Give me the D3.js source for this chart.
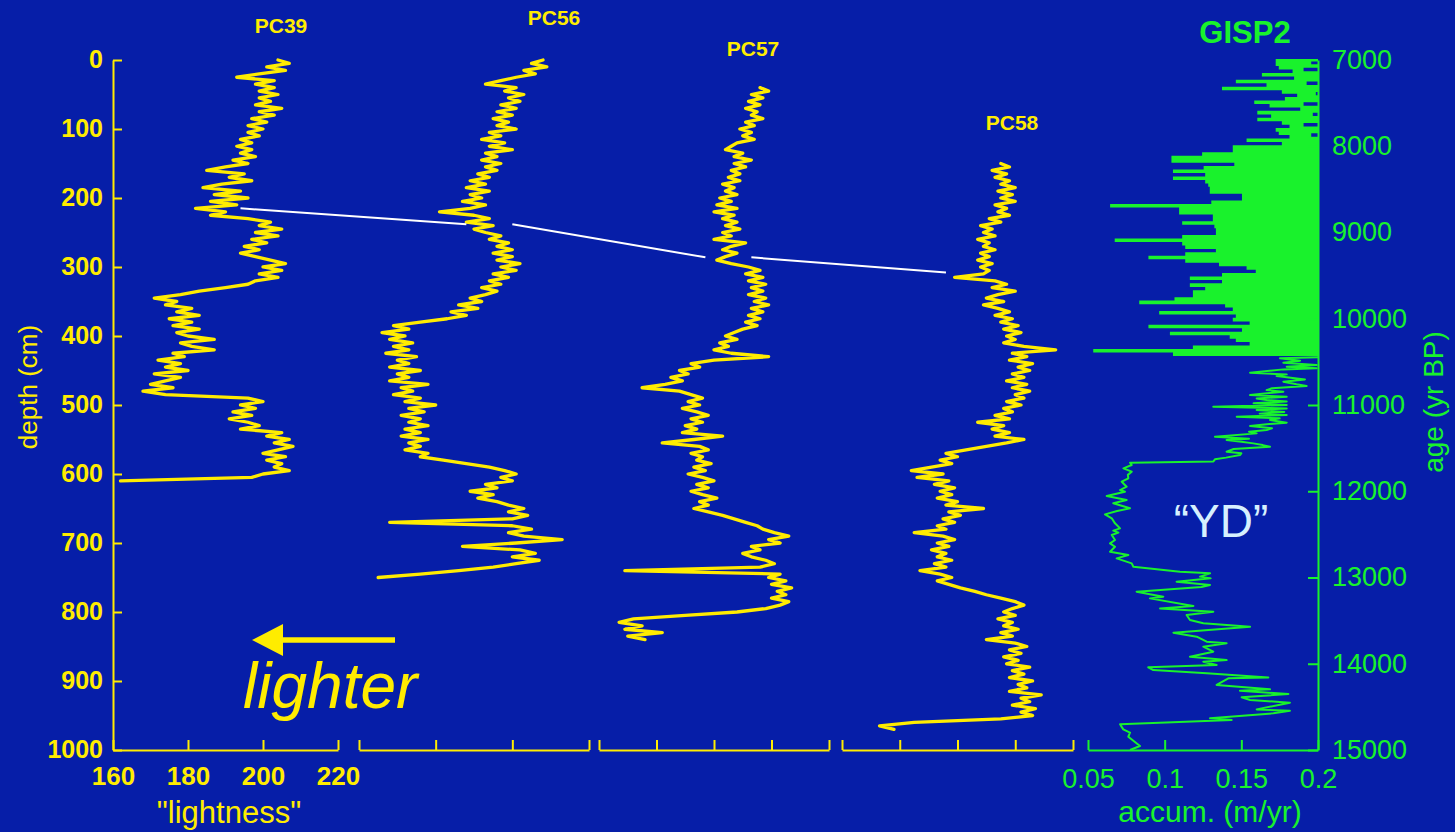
<!DOCTYPE html>
<html><head><meta charset="utf-8">
<script src="https://cdn.jsdelivr.net/npm/d3@7"></script>
<style>html,body{margin:0;padding:0;background:#061ea8;}svg{display:block;}</style>
</head><body><svg id="c" width="1455" height="832"></svg>
<script>
// ---------- DATA ----------
const coreNames = ["PC39", "PC56", "PC57", "PC58"];
const coreDepthStart = [0, 0, 40, 150];   // cm, first sample depth of each core
const depthStep = 5;                       // cm between samples
const pc39 = [204,207,201,206,199,193,203,198,203,199,
 204,199,202,198,205,199,203,197,201,196,
 200,196,199,194,197,193,197,194,198,192,
 196,190,185,195,191,197,189,184,194,187,
 196,186,193,182,190,186,196,202,199,205,
 198,204,197,201,195,199,194,198,202,206,
 200,205,199,204,198,196,190,183,178,171,
 177,174,181,177,183,175,181,176,183,177,
 180,187,178,181,187,176,179,172,178,174,
 180,171,178,174,170,176,168,174,196,200,
 194,198,192,197,191,196,199,194,205,201,
 207,203,208,204,200,206,201,205,203,207,
 200,197,162];
const pc56 = [208,205,209,203,206,201,197,193,201,198,
 203,199,202,197,201,196,200,195,199,196,
 201,194,197,192,198,194,200,193,196,192,
 197,193,196,191,194,189,193,188,194,189,
 192,187,193,189,181,190,194,188,195,190,
 193,197,194,199,196,200,195,200,196,202,
 197,201,195,199,194,197,192,196,193,189,
 192,186,191,184,188,183,176,169,173,166,
 172,168,174,169,173,167,175,170,173,168,
 176,170,173,168,178,171,174,169,176,172,
 180,173,177,171,176,173,178,172,176,171,
 178,173,176,172,178,176,182,188,194,198,
 201,197,200,193,196,189,195,191,196,199,
 203,199,204,200,168,200,205,199,203,213,
 201,187,202,206,200,207,201,195,186,176,
 165];
const pc57 = [196,199,193,197,192,196,191,195,193,197,
 191,194,189,193,190,194,188,186,184,190,
 187,193,187,191,186,189,185,189,183,187,
 184,188,182,186,181,188,180,187,183,188,
 184,189,183,186,180,191,186,183,188,184,
 181,186,192,196,191,197,192,198,193,197,
 192,198,194,199,193,197,192,196,191,195,
 190,187,184,188,182,185,180,186,199,180,
 172,175,168,171,165,169,163,155,168,172,
 176,171,175,169,174,178,172,176,170,174,
 169,183,173,162,175,178,172,176,174,179,
 173,177,171,176,180,174,178,172,176,181,
 175,178,173,178,183,187,191,195,197,201,
 206,199,203,193,196,190,193,198,201,196,
 149,203,199,205,200,207,202,205,200,206,
 203,198,188,170,152,147,155,149,162,150,
 156];
const pc58 = [195,198,192,197,193,198,195,200,194,199,
 195,200,193,197,194,198,191,195,188,192,
 189,193,187,191,189,193,188,191,187,192,
 188,191,189,179,193,197,192,200,194,190,
 196,189,194,198,193,199,195,201,196,202,
 197,200,196,203,214,199,204,198,206,201,
 205,199,203,197,204,199,205,200,203,197,
 202,196,199,193,198,187,196,192,198,193,
 203,197,190,183,176,180,174,178,171,164,
 175,166,177,172,179,174,178,173,180,176,
 189,177,181,175,179,173,176,165,175,179,
 173,177,171,176,173,178,172,176,167,174,
 178,173,177,181,186,190,195,200,203,199,
 196,200,194,199,196,201,195,199,190,200,
 204,198,202,196,201,197,205,199,203,198,
 206,201,204,198,209,202,205,199,207,202,
 206,195,165,153,158];
const coreValues = [pc39, pc56, pc57, pc58];
const panelDomains = [[160, 220], [160, 220], [140, 220], [140, 220]];
const panelTicks = [[160, 180, 200, 220], [160, 180, 200, 220], [140, 160, 180, 200, 220], [140, 160, 180, 200, 220]];
const depthTicks = [0, 100, 200, 300, 400, 500, 600, 700, 800, 900, 1000];

// correlation tie lines: [core, depth, lightness] -> [core, depth, lightness]
const tieFrom = [["PC39", 215, 194], ["PC56", 238, 200], ["PC57", 286, 193]];
const tieTo   = [["PC56", 238, 188], ["PC57", 286, 177], ["PC58", 308, 176]];

// GISP2 accumulation (m/yr) vs age (yr BP)
const gispDenseStart = 7000, gispDenseStep = 40;
const gispHighs = [.205,.195,.21,.19,.22,.2,.215,.192,.21,.2,
 .198,.22,.205,.19,.21,.2,.196,.215,.2,.19,
 .21,.205,.195,.22,.2,.21,
 .22,.21,.23,.21,.22,.24,.21,.22,.23,.21,
 .22,.21,.24,.22,.21,.23,.22,.21,.22,.23,
 .21,.24,.22,.21,.23,.22,.21,.22,.23,.21,
 .22,.24,.21,.22,.23,.21,.22,.21,.23,.22,
 .21,.24,.22,.21,.23,.22,.21,.22,.23,.21,
 .22,.24,.21,.22,.23,.21,.22,.21,.23,.22,
 .21];
const gispLows = [.173,.173,.175,.184,.164,.185,.147,.167,.138,.177,
 .187,.179,.159,.169,.189,.161,.170,.161,.177,.182,
 .173,.175,.182,.154,.177,.145,.145,.125,.105,.105,
 .146,.126,.106,.127,.106,.127,.129,.130,.130,.151,
 .151,.131,.065,.110,.110,.132,.132,.112,.133,.134,
 .134,.112,.068,.112,.114,.134,.114,.090,.114,.136,
 .154,.160,.138,.117,.138,.117,.127,.119,.119,.107,
 .084,.140,.145,.097,.147,.145,.156,.090,.151,.104,
 .143,.147,.156,.119,.054,.106];
const gispAges = [10459,10486,10510,10537,10556,10575,10587,10626,10645,10664,
 10703,10730,10760,10780,10805,10827,10846,10885,10904,10925,
 10943,10960,10981,11000,11020,11040,11058,11080,11100,11116,
 11136,11155,11174,11205,11225,11244,11270,11290,11310,11329,
 11368,11390,11406,11425,11445,11465,11484,11510,11542,11560,
 11580,11610,11630,11654,11669,11696,11734,11773,11810,11850,
 11889,11947,11986,12005,12055,12102,12140,12198,12230,12268,
 12314,12372,12430,12457,12480,12507,12565,12604,12643,12701,
 12739,12778,12836,12875,12933,12952,12990,13010,13048,13087,
 13110,13164,13222,13242,13330,13358,13396,13435,13493,13531,
 13570,13640,13686,13744,13763,13802,13860,13918,13957,13976,
 14015,14042,14073,14111,14158,14169,14246,14297,14312,14351,
 14389,14420,14451,14529,14544,14575,14633,14652,14702,14761,
 14799,14846,14954,15000];
const gispAcc = [.1752,.1883,.1774,.1991,.1796,.1991,.1774,.1557,.1796,.1730,
 .1915,.1774,.1860,.1926,.1700,.1665,.1774,.1557,.1796,.1600,
 .1665,.1796,.1580,.1796,.1317,.1796,.1600,.1780,.1620,.1796,
 .1470,.1750,.1687,.1796,.1650,.1557,.1700,.1665,.1550,.1600,
 .1328,.1550,.1404,.1500,.1578,.1640,.1687,.1450,.1404,.1500,
 .1491,.1400,.1328,.1318,.0774,.0785,.0731,.0785,.0760,.0763,
 .0720,.0752,.0709,.0741,.0622,.0752,.0665,.0774,.0690,.0611,
 .0655,.0676,.0709,.0665,.0698,.0655,.0676,.0644,.0676,.0644,
 .0763,.0687,.0785,.0796,.1100,.1296,.1231,.1300,.1078,.1296,
 .1240,.0817,.0991,.0904,.1187,.0970,.1317,.1143,.1165,.1252,
 .1557,.1057,.1209,.1274,.1404,.1252,.1317,.1165,.1404,.1252,
 .1339,.0893,.0926,.1274,.1676,.1415,.1339,.1687,.1491,.1807,
 .1502,.1557,.1817,.1600,.1817,.1709,.1296,.1437,.0709,.0730,
 .0774,.0763,.0839,.0774];
const ageTicks = [7000, 8000, 9000, 10000, 11000, 12000, 13000, 14000, 15000];
const accTicks = [0.05, 0.1, 0.15, 0.2];

// ---------- STYLE / LAYOUT ----------
const BG = "#061ea8", YEL = "#ffec00", GRN = "#19f22c", FONT = "'Liberation Sans', Arial, Helvetica, sans-serif";
const panelRanges = [[113, 338], [359, 589], [599, 829], [842, 1073]];
const labelPos = [[281, 33], [554, 25], [753, 56], [1012, 130]];

const svg = d3.select("#c");
svg.append("rect").attr("width", 1455).attr("height", 832).attr("fill", BG);

const y = d3.scaleLinear().domain([0, 1000]).range([60, 750]);
const xs = panelDomains.map((d, i) => d3.scaleLinear().domain(d).range(panelRanges[i]));
const xOf = name => xs[coreNames.indexOf(name)];

// yellow traces
const line = (xsc) => d3.line().x(d => xsc(d[1])).y(d => y(d[0]));
coreValues.forEach((vals, i) => {
  const data = vals.map((v, j) => [coreDepthStart[i] + j * depthStep, v]);
  svg.append("path").datum(data).attr("d", line(xs[i]))
    .attr("fill", "none").attr("stroke", YEL).attr("stroke-width", 3.3)
    .attr("stroke-linejoin", "round").attr("stroke-linecap", "round");
});

// tie lines
tieFrom.forEach((f, i) => {
  const t = tieTo[i];
  svg.append("line")
    .attr("x1", xOf(f[0])(f[2])).attr("y1", y(f[1]))
    .attr("x2", xOf(t[0])(t[2])).attr("y2", y(t[1]))
    .attr("stroke", "#ffffff").attr("stroke-width", 2);
});

// depth axis
const gY = svg.append("g").attr("transform", "translate(113,0)")
  .call(d3.axisLeft(y).tickValues(depthTicks).tickSize(-9).tickSizeOuter(0).tickPadding(10).tickFormat(d3.format("d")));
gY.selectAll("path,line").attr("stroke", YEL).attr("stroke-width", 2);
gY.selectAll("text").attr("fill", YEL).attr("font-family", FONT).attr("font-size", 25).attr("font-weight", "bold").attr("dy", "0.28em");

// bottom lightness axes
xs.forEach((xsc, i) => {
  const ax = d3.axisBottom(xsc).tickValues(panelTicks[i]).tickSize(-10).tickSizeOuter(0).tickPadding(16.5);
  if (i > 0) ax.tickFormat(() => "");
  const g = svg.append("g").attr("transform", "translate(0,750)").call(ax);
  g.selectAll("path,line").attr("stroke", YEL).attr("stroke-width", 2);
  g.selectAll("text").attr("fill", YEL).attr("font-family", FONT).attr("font-size", 26).attr("font-weight", "bold");
});

// core names
coreNames.forEach((n, i) => {
  svg.append("text").attr("x", labelPos[i][0]).attr("y", labelPos[i][1]).text(n)
    .attr("text-anchor", "middle").attr("fill", YEL).attr("font-family", FONT)
    .attr("font-size", 21).attr("font-weight", "bold");
});

// axis titles
svg.append("text").attr("transform", "translate(37,387) rotate(-90)").text("depth (cm)")
  .attr("text-anchor", "middle").attr("fill", YEL).attr("font-family", FONT).attr("font-size", 26);
svg.append("text").attr("x", 229).attr("y", 823).text("\"lightness\"")
  .attr("text-anchor", "middle").attr("fill", YEL).attr("font-family", FONT).attr("font-size", 31);

// arrow + lighter
svg.append("line").attr("x1", 395).attr("y1", 640).attr("x2", 280).attr("y2", 640)
  .attr("stroke", YEL).attr("stroke-width", 5.5);
svg.append("path").attr("d", "M252,640 L283,624 L283,656 Z").attr("fill", YEL);
svg.append("text").attr("x", 243).attr("y", 708).text("lighter")
  .attr("fill", YEL).attr("font-family", FONT).attr("font-size", 64).attr("font-style", "italic");

// ---------- GISP2 ----------
const ageY = d3.scaleLinear().domain([7000, 15000]).range([60, 750]);
const accX = d3.scaleLinear().domain([0.05, 0.2]).range([1088, 1318]);
const dense = [];
gispHighs.forEach((h, j) => {
  dense.push([gispDenseStart + j * gispDenseStep, h]);
  if (j < gispLows.length) dense.push([gispDenseStart + j * gispDenseStep + gispDenseStep / 2, gispLows[j]]);
});
const sparse = [dense[dense.length - 1]].concat(gispAges.map((a, j) => [a, gispAcc[j]]));

svg.append("defs").append("clipPath").attr("id", "gclip").append("rect")
  .attr("x", 1060).attr("y", 50).attr("width", 1318 - 1060).attr("height", 710);
svg.append("path").datum(dense)
  .attr("d", d3.line().x(d => accX(d[1])).y(d => ageY(d[0])).curve(d3.curveStepAfter)(dense))
  .attr("clip-path", "url(#gclip)")
  .attr("fill", "none").attr("stroke", GRN).attr("stroke-width", 1.8);
svg.append("path").datum(sparse)
  .attr("d", d3.line().x(d => accX(d[1])).y(d => ageY(d[0]))(sparse))
  .attr("clip-path", "url(#gclip)")
  .attr("fill", "none").attr("stroke", GRN).attr("stroke-width", 2).attr("stroke-linejoin", "round");

const gA = svg.append("g").attr("transform", "translate(1318,0)")
  .call(d3.axisRight(ageY).tickValues(ageTicks).tickSize(-10).tickSizeOuter(0).tickPadding(14).tickFormat(d3.format("d")));
gA.selectAll("path,line").attr("stroke", GRN).attr("stroke-width", 2);
gA.selectAll("text").attr("fill", GRN).attr("font-family", FONT).attr("font-size", 27).attr("dy", "0.31em");

const gX = svg.append("g").attr("transform", "translate(0,750)")
  .call(d3.axisBottom(accX).tickValues(accTicks).tickSize(-10).tickSizeOuter(0).tickPadding(18.8).tickFormat(d => String(d)));
gX.selectAll("path,line").attr("stroke", GRN).attr("stroke-width", 2);
gX.selectAll("text").attr("fill", GRN).attr("font-family", FONT).attr("font-size", 27);

svg.append("text").attr("x", 1245).attr("y", 43).text("GISP2")
  .attr("text-anchor", "middle").attr("fill", GRN).attr("font-family", FONT).attr("font-size", 31).attr("font-weight", "bold");
svg.append("text").attr("x", 1210).attr("y", 822).text("accum. (m/yr)")
  .attr("text-anchor", "middle").attr("fill", GRN).attr("font-family", FONT).attr("font-size", 30);
svg.append("text").attr("transform", "translate(1443,402) rotate(-90)").text("age (yr BP)")
  .attr("text-anchor", "middle").attr("fill", GRN).attr("font-family", FONT).attr("font-size", 28);
svg.append("text").attr("x", 1221).attr("y", 537).text("\u201cYD\u201d")
  .attr("text-anchor", "middle").attr("fill", "#d6f0ff").attr("font-family", FONT).attr("font-size", 46);
</script></body></html>
